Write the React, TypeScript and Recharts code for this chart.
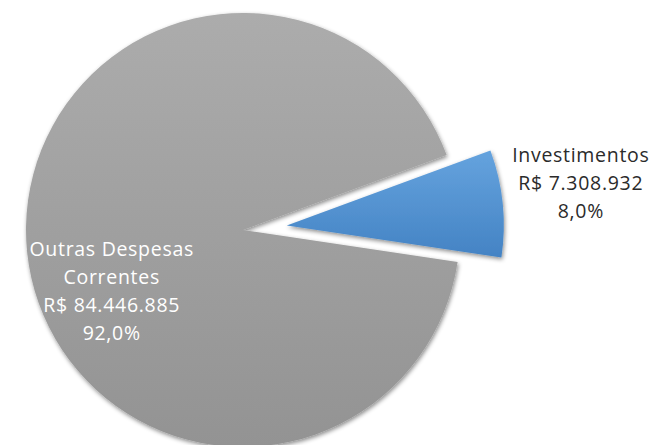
import React from 'react';
import { PieChart, Pie, Cell } from 'recharts';

const categories = ['Investimentos', 'Outras Despesas Correntes'];
const categoryLines = [['Investimentos'], ['Outras Despesas', 'Correntes']];
const values = [7308932, 84446885];

const total = values.reduce((a, b) => a + b, 0);
const fmtBRL = (v: number) => 'R$ ' + String(v).replace(/\B(?=(\d{3})+(?!\d))/g, '.');
const fmtPct = (v: number) => ((v / total) * 100).toFixed(1).replace('.', ',') + '%';

const data = categories.map((name, i) => ({
  name,
  value: values[i],
  lines: [...categoryLines[i], fmtBRL(values[i]), fmtPct(values[i])],
}));

const CX = 238;
const CY = 225;
const R = 217;
const START = 20.2;
const EXPLODE = 44;
const RAD = Math.PI / 180;
const blueMid = START - (values[0] / total) * 180;
const blueCx = CX + EXPLODE * Math.cos(blueMid * RAD);
const blueCy = CY - EXPLODE * Math.sin(blueMid * RAD);

const FONT = '"Open Sans", Lato, sans-serif';

const renderLabel = (props: any) => {
  const { cx, cy, outerRadius, midAngle, payload, index } = props;
  const lines: string[] = payload?.lines ?? data[index].lines;
  let x: number;
  let y: number;
  let fill: string;
  if (index === 0) {
    x = cx + outerRadius * 1.37 * Math.cos((midAngle + 2.6) * RAD);
    y = cy - outerRadius * 1.37 * Math.sin((midAngle + 2.6) * RAD);
    fill = '#2b2b2b';
  } else {
    x = cx - outerRadius * 0.605;
    y = cy + outerRadius * 0.275;
    fill = '#ffffff';
  }
  const lh = 28;
  const y0 = y - ((lines.length - 1) * lh) / 2;
  return (
    <text
      x={x}
      y={y0}
      textAnchor="middle"
      dominantBaseline="central"
      fontFamily={FONT}
      fontSize={19.5}
      letterSpacing={0.7}
      fill={fill}
    >
      {lines.map((l, i) => (
        <tspan key={i} x={x} y={y0 + i * lh} dominantBaseline="central">
          {l}
        </tspan>
      ))}
    </text>
  );
};

export default function App() {
  return (
    <div style={{ position: 'absolute', left: 0, top: 0, background: '#fff' }}>
      <PieChart width={653} height={445}>
        <defs>
          <linearGradient id="grayGrad" x1="0" y1="0" x2="0" y2="1">
            <stop offset="0%" stopColor="#acacac" />
            <stop offset="100%" stopColor="#939393" />
          </linearGradient>
          <linearGradient id="blueGrad" x1="0" y1="0" x2="0" y2="1">
            <stop offset="0%" stopColor="#65a3de" />
            <stop offset="100%" stopColor="#4483c4" />
          </linearGradient>
          <filter id="shadow" x="-10%" y="-10%" width="120%" height="120%">
            <feDropShadow dx="1" dy="2" stdDeviation="2.2" floodColor="#000" floodOpacity="0.45" />
          </filter>
        </defs>
        <Pie
          data={data}
          dataKey="value"
          nameKey="name"
          cx={CX}
          cy={CY}
          outerRadius={R}
          startAngle={START}
          endAngle={START - 360}
          stroke="none"
          isAnimationActive={false}
          label={(p: any) => (p.index === 1 ? renderLabel(p) : null)}
          labelLine={false}
        >
          <Cell fill="none" stroke="none" />
          <Cell fill="url(#grayGrad)" stroke="none" filter="url(#shadow)" />
        </Pie>
        <Pie
          data={data}
          dataKey="value"
          nameKey="name"
          cx={blueCx}
          cy={blueCy}
          outerRadius={R}
          startAngle={START}
          endAngle={START - 360}
          stroke="none"
          isAnimationActive={false}
          label={(p: any) => (p.index === 0 ? renderLabel(p) : null)}
          labelLine={false}
        >
          <Cell fill="url(#blueGrad)" stroke="none" filter="url(#shadow)" />
          <Cell fill="none" stroke="none" />
        </Pie>
      </PieChart>
    </div>
  );
}
